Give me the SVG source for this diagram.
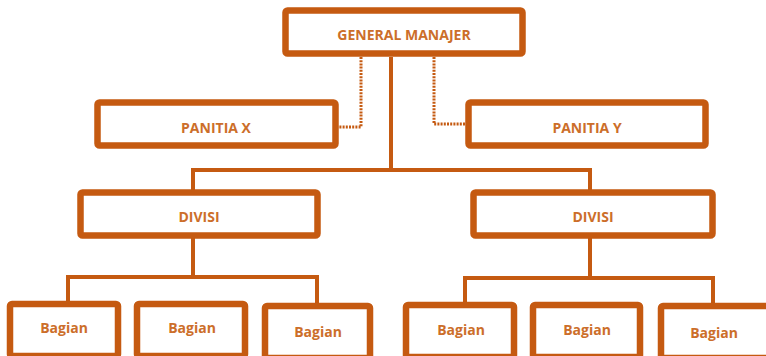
<svg xmlns="http://www.w3.org/2000/svg" width="766" height="356" viewBox="0 0 766 356">
<style>
.box{fill:#fff;stroke:#C55A11;stroke-width:6.5}
.t{font-family:"Open Sans","Liberation Sans",sans-serif;font-weight:bold;font-size:14px;fill:#CC6E2A;text-anchor:middle;dominant-baseline:central}
.ln{fill:none;stroke:#C55A11;stroke-width:4}
.dot{fill:none;stroke:#C55A11;stroke-width:3;stroke-dasharray:2 1.2}
</style>
<rect width="766" height="356" fill="#fff"/>
<g id="connectors">
<path class="dot" d="M361 57V127H338"/>
<path class="dot" d="M434 57V124H466"/>
<path class="ln" d="M391 57V170"/>
<path class="ln" d="M193 190V170H590V190"/>
<path class="ln" d="M193 238V277"/>
<path class="ln" d="M68 302V277H317V303"/>
<path class="ln" d="M590 238V278"/>
<path class="ln" d="M465 302V278H713V303"/>
</g>
<g id="gm"><rect class="box" x="285.5" y="10.5" width="237" height="43" rx="2"/><text class="t" x="404" y="34">GENERAL MANAJER</text></g>
<g id="panitia-x"><rect class="box" x="97.5" y="102.5" width="238" height="43" rx="2"/><text class="t" x="216" y="127">PANITIA X</text></g>
<g id="panitia-y"><rect class="box" x="468.5" y="102.5" width="237" height="43" rx="2"/><text class="t" x="587" y="127">PANITIA Y</text></g>
<g id="divisi-1"><rect class="box" x="80.5" y="192.5" width="237" height="43" rx="2"/><text class="t" x="199" y="216">DIVISI</text></g>
<g id="divisi-2"><rect class="box" x="473.5" y="192.5" width="239" height="43" rx="2"/><text class="t" x="593" y="216">DIVISI</text></g>
<g id="bagian-1"><rect class="box" x="10" y="304" width="108" height="52" rx="2"/><text class="t" x="64" y="327">Bagian</text></g>
<g id="bagian-2"><rect class="box" x="137" y="304" width="108" height="52" rx="2"/><text class="t" x="192" y="327">Bagian</text></g>
<g id="bagian-3"><rect class="box" x="265" y="306" width="105" height="52" rx="2"/><text class="t" x="318" y="331">Bagian</text></g>
<g id="bagian-4"><rect class="box" x="406" y="305" width="108" height="52" rx="2"/><text class="t" x="461" y="329">Bagian</text></g>
<g id="bagian-5"><rect class="box" x="533" y="305" width="107" height="52" rx="2"/><text class="t" x="587" y="329">Bagian</text></g>
<g id="bagian-6"><rect class="box" x="661" y="306" width="110" height="52" rx="2"/><text class="t" x="714" y="332">Bagian</text></g>
</svg>
